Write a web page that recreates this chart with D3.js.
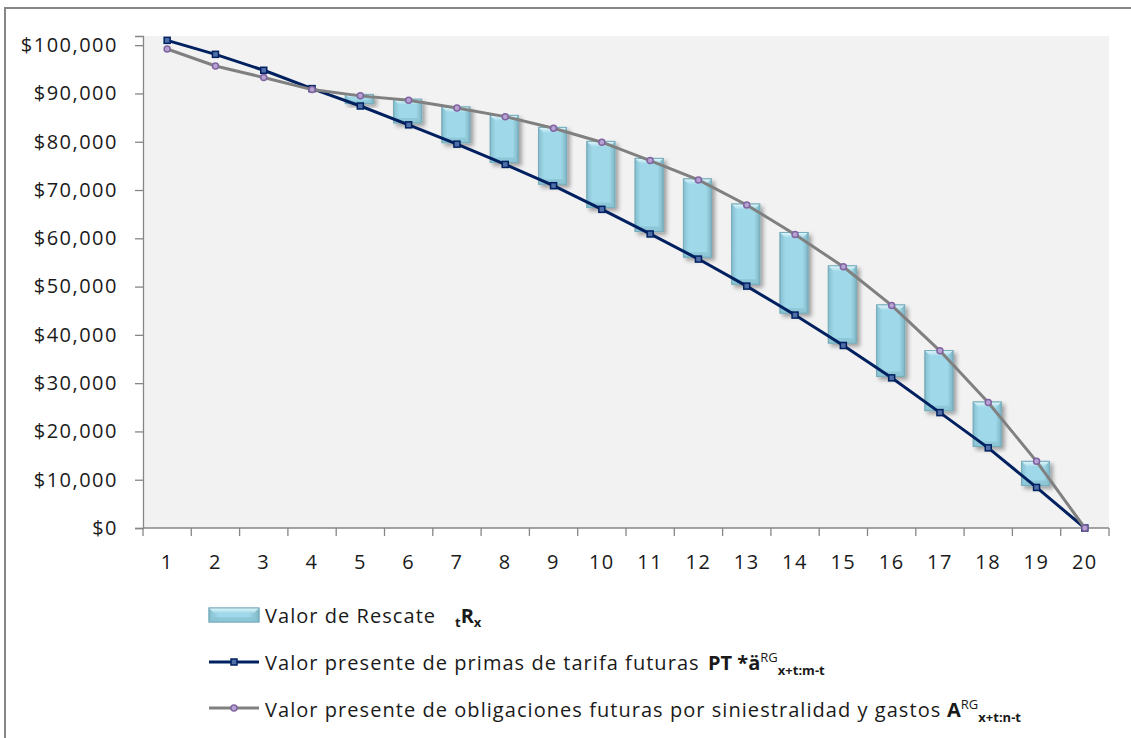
<!DOCTYPE html>
<html>
<head>
<meta charset="utf-8">
<script src="https://cdn.jsdelivr.net/npm/d3@7"></script>
<style>
  body { margin: 0; background: #fff; }
  text { font-family: "Open Sans", sans-serif; fill: #1a1a1a; }
</style>
</head>
<body>
<div id="chart"></div>
<script>
// periodos (t)
const periodos = [1, 2, 3, 4, 5, 6, 7, 8, 9, 10, 11, 12, 13, 14, 15, 16, 17, 18, 19, 20];
// valor presente de primas de tarifa futuras
const primasPT = [101000, 98100, 94800, 91000, 87400, 83500, 79500, 75300, 70900, 66000,
                  60900, 55700, 50100, 44100, 37800, 31100, 23900, 16600, 8400, 0];
// valor presente de obligaciones futuras
const obligaciones = [99200, 95700, 93300, 90800, 89500, 88600, 87000, 85200, 82800, 79900,
                      76100, 72100, 66900, 60800, 54100, 46100, 36700, 26000, 13800, 0];
// valor de rescate: base y tope de cada barra flotante
const rescateBase = [null, null, null, null, 87900, 83900, 79800, 75700, 71200, 66400,
                     61400, 56100, 50500, 44500, 38300, 31400, 24300, 16900, 8800, null];
const rescateTope = [null, null, null, null, 89800, 88800, 87200, 85450, 82970, 80070,
                     76550, 72300, 67100, 61200, 54300, 46200, 36750, 26100, 13800, null];
const yTicks = [0, 10000, 20000, 30000, 40000, 50000, 60000, 70000, 80000, 90000, 100000];

const W = 1131, H = 738;
const plot = {left: 143, right: 1109, top: 36, bottom: 528};

const svg = d3.select("#chart").append("svg")
    .attr("width", W)
    .attr("height", H);

const defs = svg.append("defs");
let g1 = defs.append("linearGradient").attr("id", "barH").attr("x1", 0).attr("x2", 1).attr("y1", 0).attr("y2", 0);
g1.append("stop").attr("offset", "0%").attr("stop-color", "#86c0d0");
g1.append("stop").attr("offset", "20%").attr("stop-color", "#9fd8e8");
g1.append("stop").attr("offset", "80%").attr("stop-color", "#9fd8e8");
g1.append("stop").attr("offset", "100%").attr("stop-color", "#7fb6c6");
let g2 = defs.append("linearGradient").attr("id", "barTop").attr("x1", 0).attr("x2", 0).attr("y1", 0).attr("y2", 1);
g2.append("stop").attr("offset", "0%").attr("stop-color", "#e4f6fb");
g2.append("stop").attr("offset", "100%").attr("stop-color", "#a6dceb");
let f = defs.append("filter").attr("id", "shadow").attr("x", "-30%").attr("y", "-30%").attr("width", "170%").attr("height", "170%");
f.append("feDropShadow").attr("dx", 3).attr("dy", 3).attr("stdDeviation", 2.2)
    .attr("flood-color", "#000").attr("flood-opacity", 0.35);

// outer chart border
svg.append("rect")
    .attr("x", 5).attr("y", 8)
    .attr("width", W + 20).attr("height", H + 20)
    .attr("fill", "#fff")
    .attr("stroke", "#868686")
    .attr("stroke-width", 2);

const x = d3.scaleBand()
    .domain(periodos)
    .range([plot.left, plot.right])
    .padding(0);

const y = d3.scaleLinear()
    .domain([0, 101900])
    .range([plot.bottom, plot.top]);

// plot area
svg.append("rect")
    .attr("x", plot.left).attr("y", plot.top)
    .attr("width", plot.right - plot.left)
    .attr("height", plot.bottom - plot.top)
    .attr("fill", "#f2f2f2");

// y axis
const yAxis = svg.append("g")
    .attr("transform", "translate(" + plot.left + ",0)")
    .call(d3.axisLeft(y).tickValues(yTicks).tickSize(8).tickPadding(17)
        .tickFormat(d => "$" + d3.format(",")(d)));
yAxis.select(".domain").attr("stroke", "#868686").attr("stroke-width", 1.3);
yAxis.selectAll(".tick line").attr("stroke", "#868686").attr("stroke-width", 1.3);
yAxis.selectAll(".tick text")
    .attr("font-size", 20)
    .attr("letter-spacing", 1.5)
    .attr("fill", "#1a1a1a")
    .style("font-family", "'Open Sans', sans-serif");

// x axis, ticks between categories
const xAxis = svg.append("g")
    .attr("transform", "translate(0," + plot.bottom + ")");
xAxis.append("line")
    .attr("x1", plot.left).attr("x2", plot.right)
    .attr("stroke", "#868686").attr("stroke-width", 1.3);
xAxis.selectAll(".xt")
    .data(periodos.concat(["end"]))
    .enter().append("line")
    .attr("class", "xt")
    .attr("x1", d => d === "end" ? plot.right : x(d))
    .attr("x2", d => d === "end" ? plot.right : x(d))
    .attr("y1", 0).attr("y2", 8)
    .attr("stroke", "#868686").attr("stroke-width", 1.3);
xAxis.selectAll(".xl")
    .data(periodos)
    .enter().append("text")
    .attr("class", "xl")
    .attr("x", d => x(d) + x.bandwidth() / 2)
    .attr("y", 41)
    .attr("text-anchor", "middle")
    .attr("font-size", 20)
    .attr("letter-spacing", 1.5)
    .text(d => d);

// bars (valor de rescate)
const bw = 28;
function drawBar(sel, bx, by, bwid, bh) {
    sel.append("rect")
        .attr("x", bx).attr("y", by)
        .attr("width", bwid).attr("height", bh)
        .attr("fill", "url(#barH)")
        .attr("stroke", "#78aebd")
        .attr("stroke-width", 1)
        .attr("filter", "url(#shadow)");
    const bev = Math.min(5, bh / 3);
    // top bevel
    sel.append("path")
        .attr("d", "M" + bx + "," + by + "L" + (bx + bwid) + "," + by +
            "L" + (bx + bwid - bev) + "," + (by + bev) + "L" + (bx + bev) + "," + (by + bev) + "Z")
        .attr("fill", "url(#barTop)");
    // bottom bevel
    sel.append("path")
        .attr("d", "M" + bx + "," + (by + bh) + "L" + (bx + bwid) + "," + (by + bh) +
            "L" + (bx + bwid - bev) + "," + (by + bh - bev) + "L" + (bx + bev) + "," + (by + bh - bev) + "Z")
        .attr("fill", "#8ac3d2").attr("opacity", 0.8);
    sel.append("rect")
        .attr("x", bx).attr("y", by)
        .attr("width", bwid).attr("height", bh)
        .attr("fill", "none")
        .attr("stroke", "#78aebd")
        .attr("stroke-width", 1);
}

const barData = periodos.map((p, i) => ({p: p, lo: rescateBase[i], hi: rescateTope[i]}))
    .filter(d => d.lo !== null);
const bars = svg.append("g");
barData.forEach(d => {
    const bx = x(d.p) + x.bandwidth() / 2 - bw / 2 - 1;
    drawBar(bars.append("g"), bx, y(d.hi), bw, y(d.lo) - y(d.hi));
});

// lines
const line = d3.line()
    .x(d => x(d.p) + x.bandwidth() / 2)
    .y(d => y(d.v));

const ptData = periodos.map((p, i) => ({p: p, v: primasPT[i]}));
const obData = periodos.map((p, i) => ({p: p, v: obligaciones[i]}));

svg.append("path")
    .datum(ptData)
    .attr("d", line)
    .attr("fill", "none")
    .attr("stroke", "#002060")
    .attr("stroke-width", 3);
svg.selectAll(".ptm")
    .data(ptData)
    .enter().append("rect")
    .attr("class", "ptm")
    .attr("x", d => x(d.p) + x.bandwidth() / 2 - 3)
    .attr("y", d => y(d.v) - 3)
    .attr("width", 6).attr("height", 6)
    .attr("fill", "#4f6fa8")
    .attr("stroke", "#002060")
    .attr("stroke-width", 1.5);

svg.append("path")
    .datum(obData)
    .attr("d", line)
    .attr("fill", "none")
    .attr("stroke", "#808080")
    .attr("stroke-width", 3);
svg.selectAll(".obm")
    .data(obData)
    .enter().append("circle")
    .attr("class", "obm")
    .attr("cx", d => x(d.p) + x.bandwidth() / 2)
    .attr("cy", d => y(d.v))
    .attr("r", 3)
    .attr("fill", "#b7a3d1")
    .attr("stroke", "#8064a2")
    .attr("stroke-width", 1.5);

// legend
const lg = svg.append("g");
drawBar(lg.append("g"), 209, 608, 50, 14);
lg.selectAll("rect").attr("filter", null);

lg.append("line").attr("x1", 209).attr("x2", 259).attr("y1", 662).attr("y2", 662)
    .attr("stroke", "#002060").attr("stroke-width", 3);
lg.append("rect").attr("x", 231).attr("y", 659).attr("width", 6).attr("height", 6)
    .attr("fill", "#4f6fa8").attr("stroke", "#002060").attr("stroke-width", 1.5);

lg.append("line").attr("x1", 209).attr("x2", 259).attr("y1", 708).attr("y2", 708)
    .attr("stroke", "#808080").attr("stroke-width", 3);
lg.append("circle").attr("cx", 234).attr("cy", 708).attr("r", 3)
    .attr("fill", "#b7a3d1").attr("stroke", "#8064a2").attr("stroke-width", 1.5);

const fs = 20, small = 13, ls = 1.05;
// row 1
let t1 = lg.append("text").attr("x", 265).attr("y", 623).attr("font-size", fs).attr("letter-spacing", ls);
t1.append("tspan").text("Valor de Rescate");
t1.append("tspan").attr("x", 455).attr("dy", 4).attr("font-size", small).attr("font-weight", "bold").attr("letter-spacing", 0).text("t");
t1.append("tspan").attr("dy", -4).attr("font-weight", "bold").attr("letter-spacing", 0).text("R");
t1.append("tspan").attr("dy", 4).attr("font-size", small).attr("font-weight", "bold").attr("letter-spacing", 0).text("x");

// row 2
let t2 = lg.append("text").attr("x", 265).attr("y", 670).attr("font-size", fs).attr("letter-spacing", ls);
t2.append("tspan").text("Valor presente de primas de tarifa futuras");
t2.append("tspan").attr("x", 708).attr("font-weight", "bold").attr("letter-spacing", 0).text("PT *ä");
t2.append("tspan").attr("dy", -8).attr("font-size", small).attr("letter-spacing", 0).text("RG");
t2.append("tspan").attr("dy", 13).attr("font-size", small).attr("font-weight", "bold").attr("letter-spacing", 0).text("x+t:m-t");

// row 3
let t3 = lg.append("text").attr("x", 265).attr("y", 717).attr("font-size", fs).attr("letter-spacing", ls);
t3.append("tspan").text("Valor presente de obligaciones futuras por siniestralidad y gastos");
t3.append("tspan").attr("x", 947).attr("font-weight", "bold").attr("letter-spacing", 0).text("A");
t3.append("tspan").attr("dy", -8).attr("font-size", small).attr("letter-spacing", 0).text("RG");
t3.append("tspan").attr("dy", 13).attr("font-size", small).attr("font-weight", "bold").attr("letter-spacing", 0).text("x+t:n-t");
</script>
</body>
</html>
